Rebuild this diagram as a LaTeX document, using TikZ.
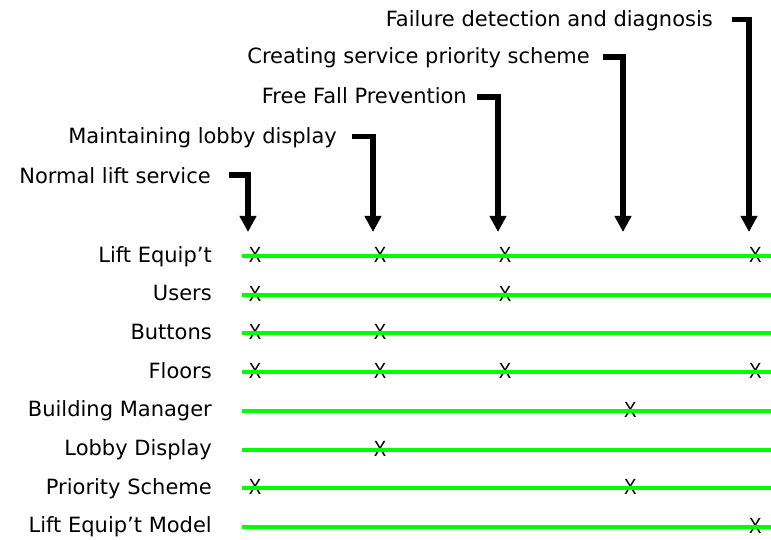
\documentclass[tikz,border=0pt]{standalone}
\usepackage{fontspec}
\setmainfont{DejaVu Sans}
\newfontfamily\markfont{Liberation Sans}
\usetikzlibrary{arrows.meta}
\definecolor{rowgreen}{HTML}{00FF00}
\begin{document}
\begin{tikzpicture}[x=1pt,y=-1pt,
  lbl/.style={font=\fontsize{21}{25}\selectfont, inner sep=0pt},
  xmark/.style={font=\markfont\fontsize{22}{26}\selectfont, inner sep=0pt},
  rowline/.style={draw=rowgreen, line width=4pt},
  flow/.style={line width=5.5pt, -{Triangle[width=16pt,length=16pt]}}]
\useasboundingbox (0,0) rectangle (771,540);

% row labels and the ends of their lines
\foreach \name/\txt/\i in {r1/Lift Equip’t/0, r2/Users/1, r3/Buttons/2,
    r4/Floors/3, r5/Building Manager/4, r6/Lobby Display/5,
    r7/Priority Scheme/6, r8/Lift Equip’t Model/7}
{
  \node[lbl, anchor=base east] (\name) at (212, {256+38.7*\i+6}) {\txt};
  \coordinate (\name s) at (242, {256+38.7*\i});
  \coordinate (\name e) at (771, {256+38.7*\i});
}

% crosses: row/column
\foreach \r/\c in {0/0,0/1,0/2,0/4,1/0,1/2,2/0,2/1,3/0,3/1,3/2,3/4,
    4/3,5/1,6/0,6/3,7/4}
  \node[xmark] (m\r\c) at ({255+125.1*\c}, {255+38.7*\r}) {\scalebox{0.85}[1]{X}};

% green row lines
\foreach \name in {r1,r2,r3,r4,r5,r6,r7,r8}
  \draw[rowline] (\name s) -- (\name e);

% use-case labels with their bent arrows
\foreach \name/\txt/\rx/\by/\gap/\off/\ax in {
    a1/Normal lift service/211/183.3/17.5/8.3/248,
    a2/Maintaining lobby display/337/143.3/14.5/6.8/373,
    a3/Free Fall Prevention/467/103.3/10/6.3/498,
    a4/Creating service priority scheme/590/63.3/13/6.3/623,
    a5/Failure detection and diagnosis/713/26.7/18.5/7.2/749}
{
  \node[lbl, anchor=base east] (\name) at (\rx, \by) {\txt};
  \coordinate (\name t) at (\ax, 232);
  \draw[flow] ([xshift=\gap pt, yshift=\off pt]\name.base east) -| (\name t);
}
\end{tikzpicture}
\end{document}
